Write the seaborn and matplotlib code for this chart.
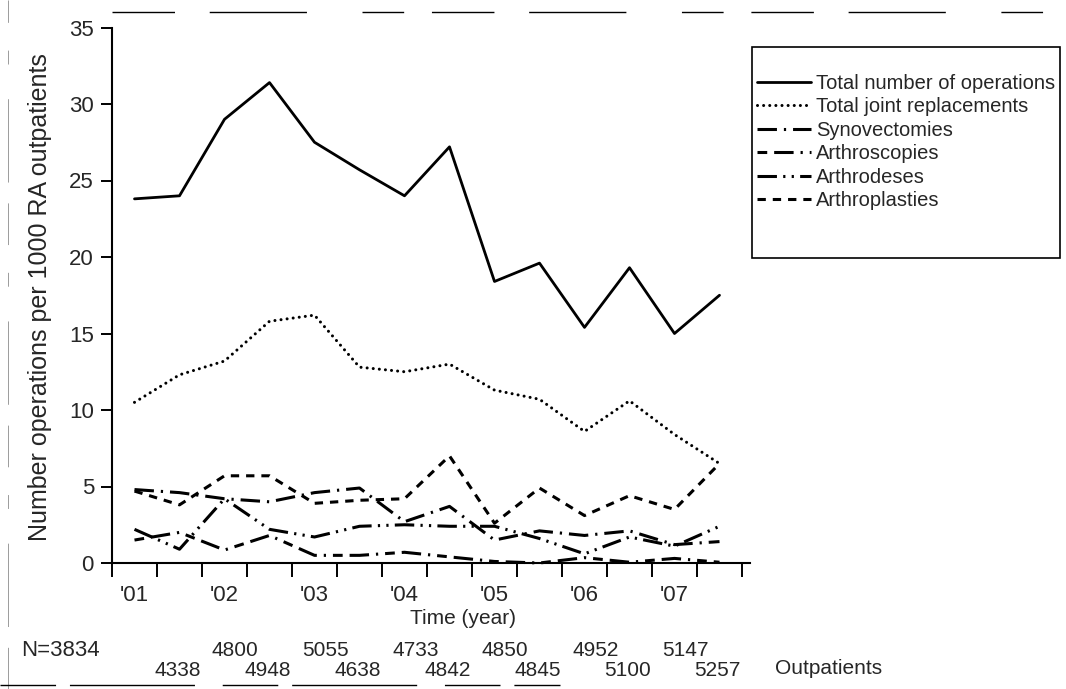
import matplotlib
matplotlib.use("Agg")
import matplotlib.pyplot as plt
from matplotlib.lines import Line2D
from matplotlib.patches import Rectangle
import seaborn as sns
import numpy as np

# ---------------- data ----------------
years = [2001.0, 2001.5, 2002.0, 2002.5, 2003.0, 2003.5, 2004.0,
         2004.5, 2005.0, 2005.5, 2006.0, 2006.5, 2007.0, 2007.5]

total_ops = [23.8, 24.0, 29.0, 31.4, 27.5, 25.7, 24.0,
             27.2, 18.4, 19.6, 15.4, 19.3, 15.0, 17.5]
joint_repl = [10.5, 12.3, 13.2, 15.8, 16.2, 12.8, 12.5,
              13.0, 11.3, 10.7, 8.6, 10.6, 8.4, 6.5]
synovectomies = [4.8, 4.6, 4.2, 4.0, 4.6, 4.9, 2.7,
                 3.7, 1.5, 2.1, 1.8, 2.1, 1.2, 1.4]
arthroscopies = [1.5, 2.0, 0.85, 1.8, 0.5, 0.5, 0.7,
                 0.4, 0.1, 0.0, 0.35, 0.05, 0.3, 0.05]
arthrodeses = [2.2, 0.9, 4.2, 2.2, 1.7, 2.4, 2.5,
               2.4, 2.4, 1.6, 0.6, 1.7, 1.1, 2.4]
arthroplasties = [4.7, 3.8, 5.7, 5.7, 3.9, 4.1, 4.2,
                  7.0, 2.6, 4.9, 3.1, 4.4, 3.5, 6.5]

series_names = ["Total number of operations", "Total joint replacements",
                "Synovectomies", "Arthroscopies", "Arthrodeses", "Arthroplasties"]

year_ticks = [2001, 2002, 2003, 2004, 2005, 2006, 2007]
year_labels = ["'01", "'02", "'03", "'04", "'05", "'06", "'07"]

outpatients = [3834, 4338, 4800, 4948, 5055, 4638, 4733,
               4842, 4850, 4845, 4952, 5100, 5147, 5257]

# ---------------- style ----------------
sns.set_theme(style="ticks")
plt.rcParams["font.family"] = ["Liberation Sans", "DejaVu Sans"]
plt.rcParams["lines.scale_dashes"] = False
FS = 15

fig = plt.figure(figsize=(10.66, 6.89), dpi=100)
W, H = 1066.0, 689.0
ax = fig.add_axes([112 / W, 1 - 563 / H, (750 - 112) / W, (563 - 27.5) / H])

styles = [
    dict(lw=2.0, dashes=None, cap="butt"),
    dict(lw=2.2, dashes=(0.01, 4.4), cap="round"),
    dict(lw=2.2, dashes=(14, 5, 1.6, 5), cap="butt"),
    dict(lw=2.2, dashes=(7, 5, 14, 5, 1.6, 5), cap="butt"),
    dict(lw=2.2, dashes=(14, 4.5, 1.6, 4.5, 1.6, 4.5), cap="butt"),
    dict(lw=2.2, dashes=(6, 5), cap="butt"),
]
all_series = [total_ops, joint_repl, synovectomies, arthroscopies,
              arthrodeses, arthroplasties]

handles = []
for name, vals, st in zip(series_names, all_series, styles):
    sns.lineplot(x=years, y=vals, ax=ax, color="black", linewidth=st["lw"],
                 label=name, legend=False)
    ln = ax.lines[-1]
    if st["dashes"] is not None:
        ln.set_dashes(st["dashes"])
    ln.set_dash_capstyle(st["cap"])
    ln.set_solid_joinstyle("round")
    ln.set_clip_on(False)
    handles.append(ln)

# axes
ax.set_xlim(2000.75, 2000.75 + (750 - 112) / 90.0)
ax.set_ylim(0, 35)
ax.set_yticks([0, 5, 10, 15, 20, 25, 30, 35])
ax.set_yticklabels(["0", "5", "10", "15", "20", "25", "30", "35"], fontsize=FS + 1)
ax.set_xticks(year_ticks)
ax.set_xticklabels(year_labels, fontsize=FS + 1)
ax.set_xticks([2000.75 + 0.5 * k for k in range(15)], minor=True)
ax.tick_params(axis="x", which="major", length=0, pad=16)
ax.tick_params(axis="x", which="minor", length=10, width=1.4, direction="out", color="black")
ax.tick_params(axis="y", length=8, width=1.4, direction="out", pad=5, color="black")
for s in ["top", "right"]:
    ax.spines[s].set_visible(False)
for s in ["left", "bottom"]:
    ax.spines[s].set_linewidth(1.5)
    ax.spines[s].set_color("black")
ax.set_facecolor("white")

ax.set_xlabel("Time (year)", fontsize=FS, labelpad=1)
ax.xaxis.set_label_coords((463 - 112) / (750 - 112), -0.085)
ax.set_ylabel("Number operations per 1000 RA outpatients", fontsize=FS + 3)
ax.yaxis.set_label_coords(-(112 - 52) / (750 - 112), (563 - 297) / (563 - 27.5))

# outpatient counts under the axis (two staggered rows)
tr = matplotlib.transforms.blended_transform_factory(ax.transData, fig.transFigure)
for i, (yr, n) in enumerate(zip(years, outpatients)):
    if i == 0:
        fig.text(100 / W, 1 - 650 / H, "N=" + str(n), ha="right", va="center", fontsize=FS + 1)
    elif i % 2 == 0:
        ax.text(yr + 0.12, 1 - 650 / H, str(n), transform=tr, ha="center", va="center", fontsize=FS)
    else:
        ax.text(yr - 0.02, 1 - 671 / H, str(n), transform=tr, ha="center", va="center", fontsize=FS)
fig.text(775 / W, 1 - 668 / H, "Outpatients", ha="left", va="center", fontsize=FS)

# legend
leg = fig.legend(handles=handles, labels=series_names, loc="upper left",
                 bbox_to_anchor=(757 / W, 1 - 74 / H), frameon=False, fontsize=14.5,
                 borderpad=0, borderaxespad=0, labelspacing=0.22,
                 handlelength=2.7, handletextpad=0.25)
fig.patches.append(Rectangle((752 / W, 1 - 258 / H), (1060 - 752) / W, (258 - 47) / H,
                             transform=fig.transFigure, fill=False,
                             edgecolor="black", linewidth=1.2))

# faint scan frame remnants
fig.lines.append(Line2D([112 / W, 1.0], [1 - 12 / H, 1 - 12 / H], transform=fig.transFigure,
                        color="black", lw=1.0, dashes=(45, 25, 70, 40, 30, 20)))
fig.lines.append(Line2D([8 / W, 8 / W], [0.0, 1.0], transform=fig.transFigure,
                        color="0.55", lw=0.6, dashes=(30, 15, 60, 25, 10, 20)))
fig.lines.append(Line2D([0.0, 560 / W], [1 - 685 / H, 1 - 685 / H], transform=fig.transFigure,
                        color="black", lw=1.0, dashes=(40, 10, 90, 20)))

fig.savefig("out.png", dpi=100, facecolor="white")
